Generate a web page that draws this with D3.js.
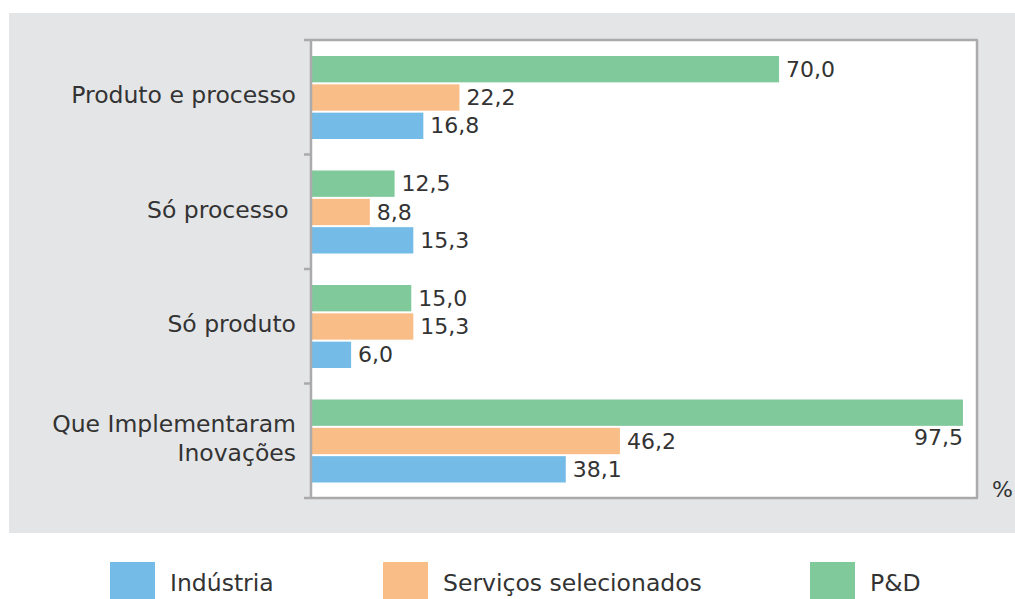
<!DOCTYPE html>
<html>
<head>
<meta charset="utf-8">
<script src="https://cdn.jsdelivr.net/npm/d3@7"></script>
<style>
  body { margin: 0; background: #fff; }
  text { font-family: "DejaVu Sans", sans-serif; fill: #333; }
</style>
</head>
<body>
<div id="chart"></div>
<script>
// categories (top to bottom) and series
const categories = ['Produto e processo', 'Só processo', 'Só produto', 'Que Implementaram Inovações'];
const seriesNames = ['P&D', 'Serviços selecionados', 'Indústria'];
const pd       = [70.0, 12.5, 15.0, 97.5];
const servicos = [22.2, 8.8, 15.3, 46.2];
const industria = [16.8, 15.3, 6.0, 38.1];
const legendOrder = ['Indústria', 'Serviços selecionados', 'P&D'];

const color = {
  'P&D': '#80c99b',
  'Serviços selecionados': '#f9be87',
  'Indústria': '#75bbe7',
  panel: '#e4e5e7',
  frame: '#aaaaaa'
};

const W = 1015, H = 599;
const plot = {left: 311, right: 977, top: 40, bottom: 498};

const svg = d3.select('#chart').append('svg').attr('width', W).attr('height', H);

// grey panel
svg.append('rect').attr('x', 9).attr('y', 13).attr('width', W - 9).attr('height', 520).attr('fill', color.panel);
svg.append('rect').attr('x', plot.left).attr('y', plot.top)
  .attr('width', plot.right - plot.left).attr('height', plot.bottom - plot.top).attr('fill', '#fff');

const x = d3.scaleLinear().domain([0, 99.6]).range([plot.left, plot.right]);
const y0 = d3.scaleBand().domain(categories).range([plot.top, plot.bottom]);
const y1 = d3.scaleBand().domain(seriesNames).range([16, 99]).paddingInner(0.07);

const valuesBy = {'P&D': pd, 'Serviços selecionados': servicos, 'Indústria': industria};
const rows = [];
categories.forEach((c, i) => {
  seriesNames.forEach(s => rows.push({cat: c, series: s, value: valuesBy[s][i]}));
});

const fmt = v => v.toFixed(1).replace('.', ',');

const barsG = svg.append('g');
barsG.selectAll('rect').data(rows).join('rect')
  .attr('x', x(0))
  .attr('y', d => y0(d.cat) + y1(d.series))
  .attr('width', d => x(d.value) - x(0))
  .attr('height', y1.bandwidth())
  .attr('fill', d => color[d.series]);

// value labels; a bar too long for its label gets it underneath, right-aligned
barsG.selectAll('text').data(rows).join('text')
  .attr('font-size', 22)
  .each(function(d){
    const t = d3.select(this);
    const yc = y0(d.cat) + y1(d.series) + y1.bandwidth() / 2;
    if (x(d.value) + 60 > plot.right) {
      t.attr('x', x(d.value)).attr('y', yc + y1.bandwidth() / 2 + 12)
        .attr('text-anchor', 'end').attr('dominant-baseline', 'central');
    } else {
      t.attr('x', x(d.value) + 7).attr('y', yc).attr('dominant-baseline', 'central');
    }
  })
  .text(d => fmt(d.value));

// frame and ticks
const frame = svg.append('g').attr('stroke', color.frame).attr('stroke-width', 2.5);
frame.append('line').attr('x1', 304).attr('x2', plot.right + 1).attr('y1', plot.top).attr('y2', plot.top);
frame.append('line').attr('x1', 304).attr('x2', plot.right + 1).attr('y1', plot.bottom).attr('y2', plot.bottom);
frame.append('line').attr('x1', plot.left).attr('x2', plot.left).attr('y1', plot.top).attr('y2', plot.bottom);
frame.append('line').attr('x1', plot.right).attr('x2', plot.right).attr('y1', plot.top).attr('y2', plot.bottom);
frame.selectAll('line.tick').data(categories.slice(1)).join('line')
  .attr('class', 'tick')
  .attr('x1', 304).attr('x2', plot.left)
  .attr('y1', d => y0(d)).attr('y2', d => y0(d));

// category labels
const catLines = {
  'Produto e processo': ['Produto e processo'],
  'Só processo': ['Só processo\u00a0'],
  'Só produto': ['Só produto'],
  'Que Implementaram Inovações': ['Que Implementaram', 'Inovações']
};
const labG = svg.append('g');
categories.forEach(c => {
  const lines = catLines[c];
  const yc = y0(c) + y0.bandwidth() / 2 - 2;
  const t = labG.append('text').attr('font-size', 23.5).attr('text-anchor', 'end')
    .attr('dominant-baseline', 'central');
  lines.forEach((l, i) => {
    t.append('tspan').attr('x', 296)
      .attr('y', yc + (i - (lines.length - 1) / 2) * 29)
      .text(l);
  });
});

svg.append('text').attr('x', 992).attr('y', 489).attr('font-size', 22)
  .attr('dominant-baseline', 'central').text('%');

// legend
const legX = [110, 383, 810];
const leg = svg.append('g');
legendOrder.forEach((s, i) => {
  leg.append('rect').attr('x', legX[i]).attr('y', 562).attr('width', 45).attr('height', 40).attr('fill', color[s]);
  leg.append('text').attr('x', legX[i] + 60).attr('y', 583).attr('font-size', 23.5)
    .attr('dominant-baseline', 'central').text(s);
});
</script>
</body>
</html>
